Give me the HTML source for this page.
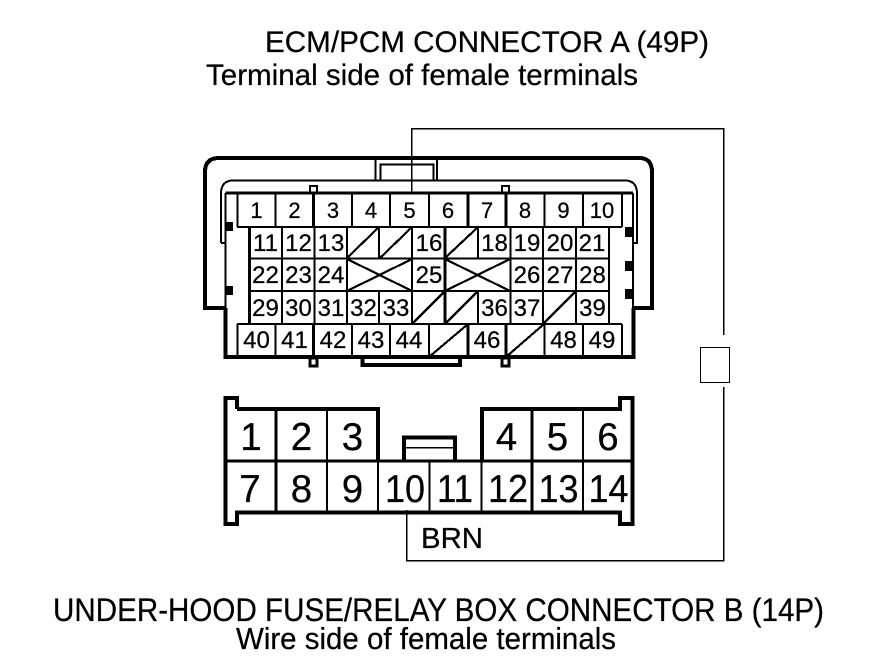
<!DOCTYPE html>
<html><head><meta charset="utf-8"><style>
html,body{margin:0;padding:0;background:#fff;width:880px;height:670px;overflow:hidden}
svg{display:block}
text{font-family:"Liberation Sans",Arial,sans-serif;fill:#000;stroke:#000;stroke-width:.25px}
.a{font-size:22px;text-anchor:middle}
.m{font-size:24px;text-anchor:middle}
.b{font-size:38.500px;text-anchor:middle}
</style></head><body>
<svg width="880" height="670" viewBox="0 0 880 670" xmlns="http://www.w3.org/2000/svg" fill="none" stroke="#000" stroke-linecap="butt" shape-rendering="crispEdges">
<!-- titles -->
<g>
<text x="265" y="52" font-size="29.500" textLength="444" lengthAdjust="spacingAndGlyphs">ECM/PCM CONNECTOR A (49P)</text>
<text x="206" y="85" font-size="29.500" textLength="432" lengthAdjust="spacingAndGlyphs">Terminal side of female terminals</text>
<text x="53" y="621" font-size="32" textLength="771" lengthAdjust="spacingAndGlyphs">UNDER-HOOD FUSE/RELAY BOX CONNECTOR B (14P)</text>
<text x="236" y="649" font-size="31" textLength="380" lengthAdjust="spacingAndGlyphs">Wire side of female terminals</text>
<text x="421" y="548" font-size="29" textLength="62" lengthAdjust="spacingAndGlyphs">BRN</text>
</g>
<!-- outer shell A -->
<path d="M225 308H205V172Q205 158 219 158H639Q652 158 652 172V308H633" stroke-width="4"/>
<path d="M375.500 158V180M380.500 180V164.500H433.500V180M437 158V180" stroke-width="2"/>
<path d="M221 243V194Q221 180.500 233 180.500H625Q637 180.500 637 194V243H633" stroke-width="2"/>
<path d="M225 243H221" stroke-width="2"/>
<!-- frame A -->
<path d="M225.500 193H633" stroke-width="3"/>
<path d="M225.500 193V308M633 193V308" stroke-width="2"/>
<path d="M225.500 308V357H633.500V308" stroke-width="4"/>
<path d="M362.500 357V365H460V357" stroke-width="4"/>
<rect x="310" y="186" width="7" height="7" stroke-width="2"/>
<rect x="502" y="186" width="7" height="7" stroke-width="2"/>
<rect x="310" y="358" width="7" height="8" stroke-width="3"/>
<rect x="502" y="358" width="7" height="8" stroke-width="3"/>
<g fill="#000" stroke="none">
<rect x="225" y="222" width="8" height="9"/>
<rect x="225" y="286" width="8" height="9"/>
<rect x="625" y="227" width="8" height="10"/>
<rect x="625" y="261" width="8" height="10"/>
<rect x="625" y="289" width="8" height="10"/>
</g>
<!-- grid A -->
<g stroke-width="2">
<path d="M237.500 193V227M275.500 193V227M352 193V227M390 193V227M429 193V227M544.500 193V227M583 193V227M622 193V227"/>
<path d="M237.500 324V357M275.500 324V357M352 324V357M390 324V357M429 324V357M544.500 324V357M583 324V357M622 324V357"/>
<path d="M237 227H622M237 324H622"/>
<path d="M249 258.500H609M249 291H609"/>
<path d="M282 227V324M314.500 227V324M347 227V324M379 227V259M379 291V324M412 227V324M478 227V259M478 291V324M510.500 227V324M543 227V324M576 227V324M609 227V324"/>
</g>
<g stroke-width="3">
<path d="M249.500 227V324M313.500 193V227M313.500 324V357M468 193V227M468 324V357M506 193V227M506 324V357M445 227V324"/>
</g>
<!-- slashes -->
<g stroke-width="2.200">
<path d="M347 258L379 227M380 258L412 227M445 258L478 227"/>
<path d="M347 259L412 291M347 291L412 259M445 259L510 291M445 291L510 259"/>
<path d="M412 324L445 291M445 324L478 291M543 324L576 291"/>
<path d="M429 357L468 324M506 357L544 324"/>
</g>
<!-- numbers A -->
<g>
<text class="a" x="256.500" y="218">1</text><text class="a" x="294.500" y="218">2</text><text class="a" x="333" y="218">3</text><text class="a" x="371" y="218">4</text><text class="a" x="409.500" y="218">5</text><text class="a" x="448" y="218">6</text><text class="a" x="487" y="218">7</text><text class="a" x="525" y="218">8</text><text class="a" x="563.500" y="218">9</text><text class="a" x="602" y="218">10</text>
<text class="m" x="265.500" y="251">11</text><text class="m" x="298.500" y="251">12</text><text class="m" x="331" y="251">13</text><text class="m" x="429" y="251">16</text><text class="m" x="494.500" y="251">18</text><text class="m" x="527" y="251">19</text><text class="m" x="560" y="251">20</text><text class="m" x="592" y="251">21</text>
<text class="m" x="265.500" y="283">22</text><text class="m" x="298.500" y="283">23</text><text class="m" x="331" y="283">24</text><text class="m" x="429" y="283">25</text><text class="m" x="527" y="283">26</text><text class="m" x="560" y="283">27</text><text class="m" x="592.500" y="283">28</text>
<text class="m" x="265.500" y="316">29</text><text class="m" x="298.500" y="316">30</text><text class="m" x="331" y="316">31</text><text class="m" x="363.500" y="316">32</text><text class="m" x="396" y="316">33</text><text class="m" x="494.500" y="316">36</text><text class="m" x="527" y="316">37</text><text class="m" x="592.500" y="316">39</text>
<text class="m" x="256.500" y="348">40</text><text class="m" x="294.500" y="348">41</text><text class="m" x="333" y="348">42</text><text class="m" x="371" y="348">43</text><text class="m" x="409" y="348">44</text><text class="m" x="487" y="348">46</text><text class="m" x="563.500" y="348">48</text><text class="m" x="602" y="348">49</text>
</g>
<!-- wire -->
<path d="M411.500 193V128.500H723.500V335" stroke-width="1.500"/>
<path d="M723.500 387V560.500H406.500V510" stroke-width="1.500"/>
<rect x="700.500" y="347.500" width="29" height="35" stroke-width="1"/>
<!-- connector B -->
<path d="M237 409V398H225.500V524H237V512.500H620V524H632.500V398H620V409H482V461M378 461V409H237" stroke-width="4"/>
<path d="M226 461H632" stroke-width="3"/>
<path d="M276 409V512M532 409V512" stroke-width="3"/>
<path d="M327 409V512M583 409V512M378 461V512M429.500 461V512M481.500 461V512" stroke-width="2"/>
<path d="M404 461V437.500H455V461" stroke-width="4"/>
<path d="M404 447.500H455" stroke-width="1.500"/>
<g>
<text class="b" x="251" y="450">1</text><text class="b" x="301.500" y="450">2</text><text class="b" x="352.500" y="450">3</text><text class="b" x="506.500" y="450">4</text><text class="b" x="557.500" y="450">5</text><text class="b" x="608" y="450">6</text>
<text class="b" x="250" y="502">7</text><text class="b" x="301.500" y="502">8</text><text class="b" x="352.500" y="502">9</text><text class="b" x="405" y="502" textLength="40" lengthAdjust="spacingAndGlyphs">10</text><text class="b" x="455" y="502" textLength="36" lengthAdjust="spacingAndGlyphs">11</text><text class="b" x="508" y="502" textLength="40" lengthAdjust="spacingAndGlyphs">12</text><text class="b" x="558.500" y="502" textLength="40" lengthAdjust="spacingAndGlyphs">13</text><text class="b" x="608.500" y="502" textLength="40" lengthAdjust="spacingAndGlyphs">14</text>
</g>
</svg>
</body></html>
